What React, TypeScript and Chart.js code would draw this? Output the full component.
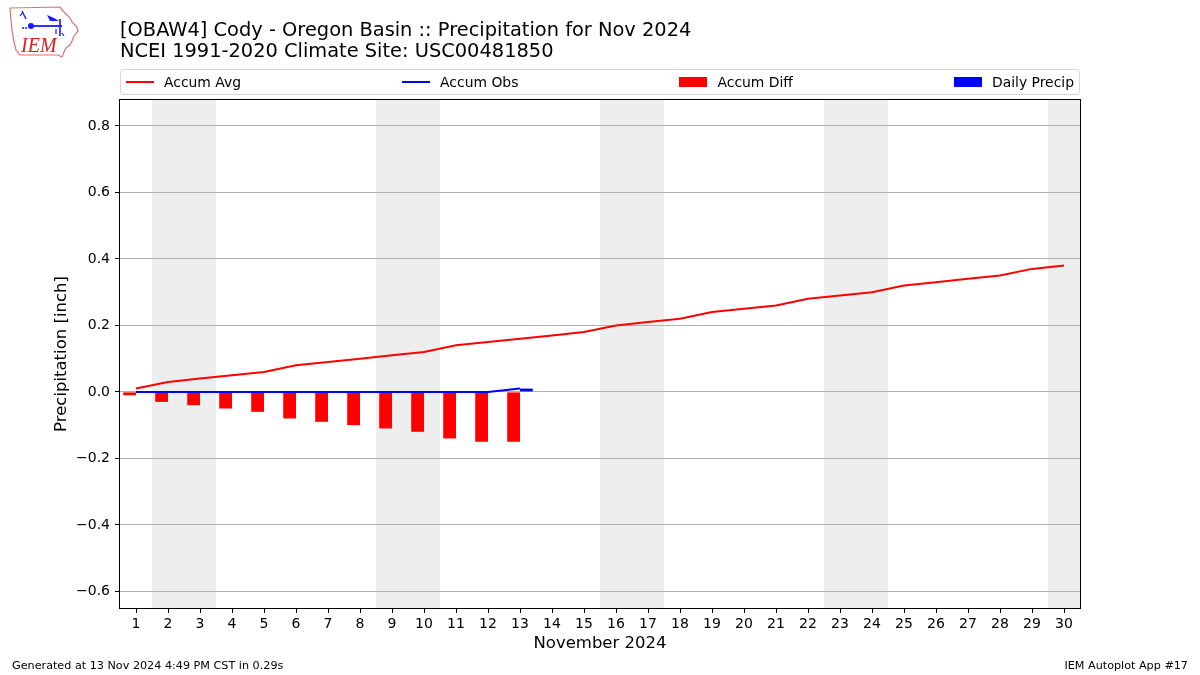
import React, { useEffect, useRef } from "react";
import { Chart, registerables } from "chart.js";

Chart.register(...registerables);

const FONT = "'DejaVu Sans', Verdana, sans-serif";

// ---- Data ----
const days = [1, 2, 3, 4, 5, 6, 7, 8, 9, 10, 11, 12, 13, 14, 15, 16, 17, 18, 19, 20, 21, 22, 23, 24, 25, 26, 27, 28, 29, 30];
const obsDays = [1, 2, 3, 4, 5, 6, 7, 8, 9, 10, 11, 12, 13];
const accumAvg = [0.01, 0.03, 0.04, 0.05, 0.06, 0.08, 0.09, 0.10, 0.11, 0.12, 0.14, 0.15, 0.16, 0.17, 0.18, 0.20, 0.21, 0.22, 0.24, 0.25, 0.26, 0.28, 0.29, 0.30, 0.32, 0.33, 0.34, 0.35, 0.37, 0.38];
const accumObs = [0, 0, 0, 0, 0, 0, 0, 0, 0, 0, 0, 0, 0.01];
const accumDiff = [-0.01, -0.03, -0.04, -0.05, -0.06, -0.08, -0.09, -0.10, -0.11, -0.12, -0.14, -0.15, -0.15];
const dailyPrecip = [0, 0, 0, 0, 0, 0, 0, 0, 0, 0, 0, 0, 0.01];
const weekendDays = [2, 3, 9, 10, 16, 17, 23, 24, 30];
const yTickValues = [-0.6, -0.4, -0.2, 0.0, 0.2, 0.4, 0.6, 0.8];

const seriesLabels = ["Accum Avg", "Accum Obs", "Accum Diff", "Daily Precip"];
const seriesColors = ["#ff0000", "#0000ff", "#ff0000", "#0000ff"];
const seriesKinds = ["line", "line", "bar", "bar"];

const titleLines = [
  "[OBAW4] Cody - Oregon Basin :: Precipitation for Nov 2024",
  "NCEI 1991-2020 Climate Site: USC00481850",
];
const xAxisTitle = "November 2024";
const yAxisTitle = "Precipitation [inch]";
const footerLeft = "Generated at 13 Nov 2024 4:49 PM CST in 0.29s";
const footerRight = "IEM Autoplot App #17";

const toXY = (xs: number[], ys: number[]) => ys.map((y, i) => ({ x: xs[i], y }));

function Logo() {
  return (
    <svg
      width={90}
      height={62}
      style={{ position: "absolute", left: 0, top: 0 }}
      viewBox="0 0 90 62"
    >
      <polygon
        points="10,8 60,7 62,10 66,14 70,18 72,22 77,27 78,31 74,36 72,41 70,45 66,48 64,52 62,57 58,55 20,55 16,50 14,42 12,30 11,20"
        fill="none"
        stroke="#e07070"
        strokeWidth={1.2}
      />
      <line x1={22} y1={11} x2={26} y2={19} stroke="#1a1aff" strokeWidth={1.4} />
      <line x1={23} y1={12} x2={20} y2={16} stroke="#1a1aff" strokeWidth={1.2} />
      <line x1={31} y1={26} x2={62} y2={26} stroke="#1a1aff" strokeWidth={1.8} />
      <circle cx={31} cy={26} r={3} fill="#1a1aff" />
      <polygon points="47,15 54,18 59,21 50,21" fill="#1a1aff" />
      <line x1={60} y1={19} x2={60} y2={36} stroke="#1a1aff" strokeWidth={1.6} />
      <line x1={56} y1={29} x2={56} y2={34} stroke="#1a1aff" strokeWidth={1.2} />
      <line x1={62} y1={33} x2={64} y2={36} stroke="#1a1aff" strokeWidth={1.2} />
      <circle cx={23} cy={28} r={1} fill="#1a1aff" />
      <circle cx={26} cy={28} r={1} fill="#1a1aff" />
      <text
        x={21}
        y={52}
        fontFamily="'Liberation Serif', 'DejaVu Serif', serif"
        fontStyle="italic"
        fontSize={20}
        fill="#d42020"
      >
        IEM
      </text>
    </svg>
  );
}

export default function App() {
  const canvasRef = useRef<HTMLCanvasElement>(null);

  useEffect(() => {
    const canvas = canvasRef.current;
    if (!canvas) return;

    const weekendShading = {
      id: "weekendShading",
      beforeDraw(chart: any) {
        const { ctx, chartArea: a, scales } = chart;
        const x = scales.x;
        ctx.save();
        ctx.beginPath();
        ctx.rect(a.left, a.top, a.right - a.left, a.bottom - a.top);
        ctx.clip();
        ctx.fillStyle = "#eeeeee";
        for (const d of weekendDays) {
          const x0 = x.getPixelForValue(d - 0.5);
          const x1 = x.getPixelForValue(d + 0.5);
          ctx.fillRect(x0, a.top, x1 - x0, a.bottom - a.top);
        }
        ctx.restore();
      },
    };

    const frame = {
      id: "frame",
      afterDraw(chart: any) {
        const { ctx, chartArea: a } = chart;
        ctx.save();
        ctx.strokeStyle = "#000000";
        ctx.lineWidth = 1;
        ctx.strokeRect(
          Math.round(a.left) - 0.5,
          Math.round(a.top) - 0.5,
          Math.round(a.right - a.left) + 1,
          Math.round(a.bottom - a.top) + 1
        );
        ctx.restore();
      },
    };

    const datasets: any[] = [
      {
        type: "line",
        label: seriesLabels[0],
        data: toXY(days, accumAvg),
        borderColor: seriesColors[0],
        backgroundColor: seriesColors[0],
        borderWidth: 2,
        pointRadius: 0,
        tension: 0,
      },
      {
        type: "line",
        label: seriesLabels[1],
        data: toXY(obsDays, accumObs),
        borderColor: seriesColors[1],
        backgroundColor: seriesColors[1],
        borderWidth: 2,
        pointRadius: 0,
        tension: 0,
      },
      {
        type: "bar",
        label: seriesLabels[2],
        data: toXY(obsDays, accumDiff),
        backgroundColor: seriesColors[2],
        borderWidth: 0,
        categoryPercentage: 0.8,
        barPercentage: 1.0,
      },
      {
        type: "bar",
        label: seriesLabels[3],
        data: toXY(obsDays, dailyPrecip),
        backgroundColor: seriesColors[3],
        borderWidth: 0,
        categoryPercentage: 0.8,
        barPercentage: 1.0,
      },
    ];

    const chart = new Chart(canvas, {
      type: "bar",
      data: { datasets },
      plugins: [weekendShading, frame],
      options: {
        animation: false,
        responsive: false,
        devicePixelRatio: 1,
        layout: { padding: { top: 100, right: 120, left: 0, bottom: 0 } },
        plugins: {
          legend: { display: false },
          tooltip: { enabled: false },
          title: { display: false },
        },
        scales: {
          x: {
            type: "linear",
            min: 0.5,
            max: 30.5,
            offset: false,
            afterBuildTicks: (s: any) => {
              s.ticks = days.map((v) => ({ value: v }));
            },
            afterFit: (s: any) => {
              s.height = 67;
            },
            ticks: {
              autoSkip: false,
              maxRotation: 0,
              minRotation: 0,
              color: "#000000",
              padding: 3,
              font: { family: FONT, size: 14 },
              callback: (v: any) => String(v),
            },
            grid: {
              offset: false,
              drawOnChartArea: false,
              drawTicks: true,
              tickLength: 5,
              tickColor: "#000000",
              color: "#000000",
            },
            border: { display: false },
            title: {
              display: true,
              text: xAxisTitle,
              color: "#000000",
              font: { family: FONT, size: 16.5 },
              padding: { top: 0, bottom: 21 },
            },
          },
          y: {
            type: "linear",
            min: -0.65,
            max: 0.878,
            afterBuildTicks: (s: any) => {
              s.ticks = yTickValues.map((v) => ({ value: v }));
            },
            afterFit: (s: any) => {
              s.width = 120;
            },
            ticks: {
              color: "#000000",
              padding: 5,
              font: { family: FONT, size: 14 },
              callback: (v: any) => {
                const n = Number(v);
                const s = Math.abs(n).toFixed(1);
                return n < -1e-9 ? "\u2212" + s : s;
              },
            },
            grid: {
              color: "#b0b0b0",
              lineWidth: 1,
              drawTicks: true,
              tickLength: 5,
              tickColor: "#000000",
            },
            border: { display: false },
            title: {
              display: true,
              text: yAxisTitle,
              color: "#000000",
              font: { family: FONT, size: 16.5 },
              padding: { top: 52, bottom: 0 },
            },
          },
        },
      } as any,
    });

    return () => chart.destroy();
  }, []);

  return (
    <div
      style={{
        position: "absolute",
        left: 0,
        top: 0,
        width: 1200,
        height: 675,
        background: "#ffffff",
        overflow: "hidden",
        fontFamily: FONT,
        color: "#000000",
      }}
    >
      <canvas
        ref={canvasRef}
        width={1200}
        height={675}
        style={{ position: "absolute", left: 0, top: 0, width: 1200, height: 675 }}
      />
      <Logo />
      <div
        style={{
          position: "absolute",
          left: 120,
          top: 19,
          fontSize: 19.4,
          lineHeight: "21px",
          whiteSpace: "nowrap",
        }}
      >
        {titleLines.map((t) => (
          <div key={t}>{t}</div>
        ))}
      </div>
      <div
        style={{
          position: "absolute",
          left: 120,
          top: 69,
          width: 960,
          height: 26,
          boxSizing: "border-box",
          border: "1px solid #d6d6d6",
          borderRadius: 3,
          display: "flex",
          justifyContent: "space-between",
          alignItems: "center",
          padding: "0 5px",
          fontSize: 13.9,
          whiteSpace: "nowrap",
        }}
      >
        {seriesLabels.map((label, i) => (
          <div key={label} style={{ display: "flex", alignItems: "center" }}>
            <span
              style={{
                display: "inline-block",
                width: 28,
                height: seriesKinds[i] === "line" ? 2 : 10,
                background: seriesColors[i],
              }}
            />
            <span style={{ marginLeft: 10 }}>{label}</span>
          </div>
        ))}
      </div>
      <div
        style={{
          position: "absolute",
          left: 12,
          top: 659,
          fontSize: 11.2,
          lineHeight: "13px",
          whiteSpace: "nowrap",
        }}
      >
        {footerLeft}
      </div>
      <div
        style={{
          position: "absolute",
          right: 12,
          top: 659,
          fontSize: 11.2,
          lineHeight: "13px",
          whiteSpace: "nowrap",
        }}
      >
        {footerRight}
      </div>
    </div>
  );
}
